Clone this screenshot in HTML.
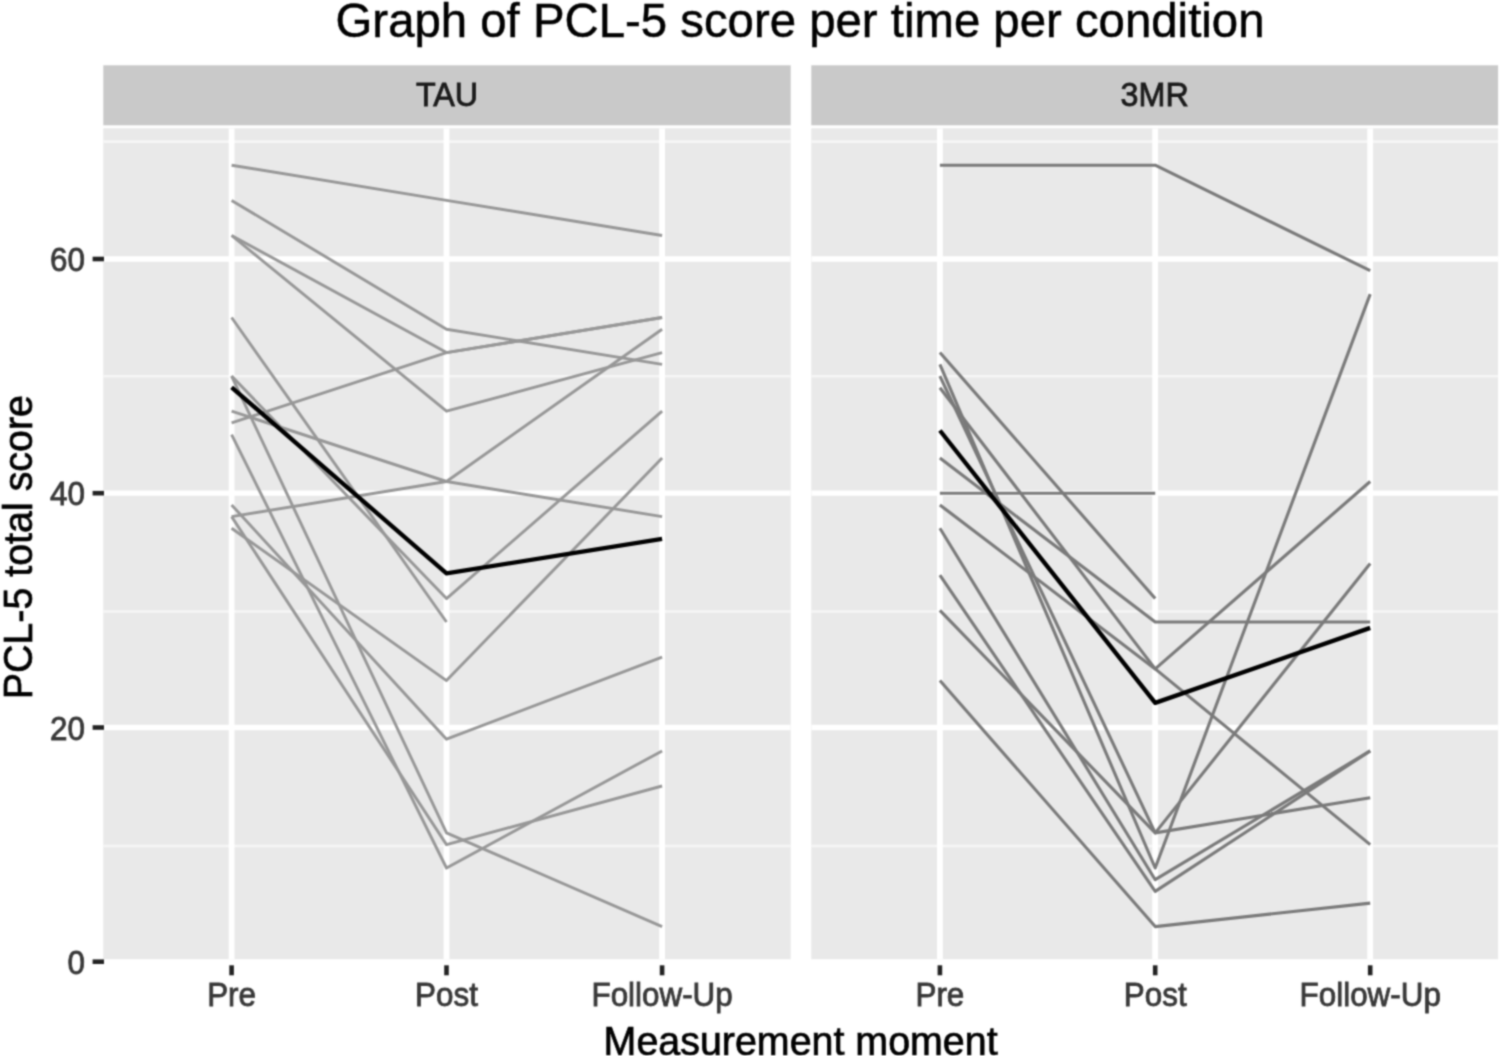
<!DOCTYPE html>
<html lang="en"><head><meta charset="utf-8"><title>Graph of PCL-5 score per time per condition</title>
<style>html,body{margin:0;padding:0;background:#fff;}body{width:1500px;height:1056px;overflow:hidden;}svg{display:block;}text{font-family:"Liberation Sans",sans-serif;}</style></head><body>
<svg width="1500" height="1056" viewBox="0 0 1500 1056">
<defs><filter id="soft" filterUnits="userSpaceOnUse" x="-20" y="-20" width="1540" height="1096" color-interpolation-filters="sRGB"><feConvolveMatrix order="5" kernelMatrix="0.00023 0.00332 0.00809 0.00332 0.00023 0.00332 0.04785 0.11640 0.04785 0.00332 0.00809 0.11640 0.28313 0.11640 0.00809 0.00332 0.04785 0.11640 0.04785 0.00332 0.00023 0.00332 0.00809 0.00332 0.00023" edgeMode="duplicate" preserveAlpha="true"/></filter></defs>
<g filter="url(#soft)">
<rect x="-20" y="-20" width="1540" height="1096" fill="#ffffff"/>
<!-- panel TAU -->
<rect x="103.3" y="65.3" width="687.4" height="60.0" fill="#c9c9c9"/>
<rect x="103.3" y="128.3" width="687.4" height="830.9" fill="#e9e9e9"/>
<clipPath id="c1"><rect x="103.3" y="128.3" width="687.4" height="830.9"/></clipPath>
<g clip-path="url(#c1)">
<line x1="103.3" x2="790.7" y1="141.6" y2="141.6" stroke="#f6f6f6" stroke-width="2.6"/>
<line x1="103.3" x2="790.7" y1="376.2" y2="376.2" stroke="#f6f6f6" stroke-width="2.6"/>
<line x1="103.3" x2="790.7" y1="611.5" y2="611.5" stroke="#f6f6f6" stroke-width="2.6"/>
<line x1="103.3" x2="790.7" y1="846.0" y2="846.0" stroke="#f6f6f6" stroke-width="2.6"/>
<line x1="103.3" x2="790.7" y1="727.5" y2="727.5" stroke="#fff" stroke-width="5.3"/>
<line x1="103.3" x2="790.7" y1="493.2" y2="493.2" stroke="#fff" stroke-width="5.3"/>
<line x1="103.3" x2="790.7" y1="259.0" y2="259.0" stroke="#fff" stroke-width="5.3"/>
<line x1="231.6" x2="231.6" y1="128.3" y2="959.2" stroke="#fff" stroke-width="5.8"/>
<line x1="446.5" x2="446.5" y1="128.3" y2="959.2" stroke="#fff" stroke-width="5.8"/>
<line x1="662.1" x2="662.1" y1="128.3" y2="959.2" stroke="#fff" stroke-width="5.8"/>
<polyline fill="none" stroke="#979797" stroke-width="2.9" stroke-linejoin="round" points="231.6,165.2 446.5,200.4 662.1,235.5"/>
<polyline fill="none" stroke="#979797" stroke-width="2.9" stroke-linejoin="round" points="231.6,200.4 446.5,329.2 662.1,364.4"/>
<polyline fill="none" stroke="#979797" stroke-width="2.9" stroke-linejoin="round" points="231.6,235.5 446.5,352.6 662.1,317.5"/>
<polyline fill="none" stroke="#979797" stroke-width="2.9" stroke-linejoin="round" points="231.6,235.5 446.5,411.2 662.1,352.6"/>
<polyline fill="none" stroke="#979797" stroke-width="2.9" stroke-linejoin="round" points="231.6,317.5 446.5,622.0"/>
<polyline fill="none" stroke="#979797" stroke-width="2.9" stroke-linejoin="round" points="231.6,376.1 446.5,598.6 662.1,411.2"/>
<polyline fill="none" stroke="#979797" stroke-width="2.9" stroke-linejoin="round" points="231.6,376.1 446.5,832.9 662.1,926.6"/>
<polyline fill="none" stroke="#979797" stroke-width="2.9" stroke-linejoin="round" points="231.6,411.2 446.5,481.5 662.1,516.6"/>
<polyline fill="none" stroke="#979797" stroke-width="2.9" stroke-linejoin="round" points="231.6,422.9 446.5,352.6 662.1,317.5"/>
<polyline fill="none" stroke="#979797" stroke-width="2.9" stroke-linejoin="round" points="231.6,434.6 446.5,868.0 662.1,750.9"/>
<polyline fill="none" stroke="#979797" stroke-width="2.9" stroke-linejoin="round" points="231.6,504.9 446.5,739.2 662.1,657.2"/>
<polyline fill="none" stroke="#979797" stroke-width="2.9" stroke-linejoin="round" points="231.6,516.6 446.5,481.5 662.1,329.2"/>
<polyline fill="none" stroke="#979797" stroke-width="2.9" stroke-linejoin="round" points="231.6,516.6 446.5,844.6 662.1,786.0"/>
<polyline fill="none" stroke="#979797" stroke-width="2.9" stroke-linejoin="round" points="231.6,528.3 446.5,680.6 662.1,458.1"/>
<polyline fill="none" stroke="#000" stroke-width="4.3" stroke-linejoin="round" points="231.6,387.3 446.5,573.3 662.1,538.9"/>
</g>
<text transform="translate(447.0,106.4) scale(1,1.040)" font-size="32.30" fill="#1a1a1a" stroke="#1a1a1a" stroke-width="0.80" text-anchor="middle">TAU</text>
<line x1="231.6" x2="231.6" y1="965.3" y2="975.3" stroke="#222222" stroke-width="4.6"/>
<text transform="translate(231.6,1006.2) scale(1,1.040)" font-size="31.40" fill="#383838" stroke="#383838" stroke-width="0.80" text-anchor="middle">Pre</text>
<line x1="446.5" x2="446.5" y1="965.3" y2="975.3" stroke="#222222" stroke-width="4.6"/>
<text transform="translate(446.5,1006.2) scale(1,1.040)" font-size="31.40" fill="#383838" stroke="#383838" stroke-width="0.80" text-anchor="middle">Post</text>
<line x1="662.1" x2="662.1" y1="965.3" y2="975.3" stroke="#222222" stroke-width="4.6"/>
<text transform="translate(662.1,1006.2) scale(1,1.040)" font-size="31.40" fill="#383838" stroke="#383838" stroke-width="0.80" text-anchor="middle">Follow-Up</text>
<!-- panel 3MR -->
<rect x="811.3" y="65.3" width="686.8" height="60.0" fill="#c9c9c9"/>
<rect x="811.3" y="128.3" width="686.8" height="830.9" fill="#e9e9e9"/>
<clipPath id="c2"><rect x="811.3" y="128.3" width="686.8" height="830.9"/></clipPath>
<g clip-path="url(#c2)">
<line x1="811.3" x2="1498.1" y1="141.6" y2="141.6" stroke="#f6f6f6" stroke-width="2.6"/>
<line x1="811.3" x2="1498.1" y1="376.2" y2="376.2" stroke="#f6f6f6" stroke-width="2.6"/>
<line x1="811.3" x2="1498.1" y1="611.5" y2="611.5" stroke="#f6f6f6" stroke-width="2.6"/>
<line x1="811.3" x2="1498.1" y1="846.0" y2="846.0" stroke="#f6f6f6" stroke-width="2.6"/>
<line x1="811.3" x2="1498.1" y1="727.5" y2="727.5" stroke="#fff" stroke-width="5.3"/>
<line x1="811.3" x2="1498.1" y1="493.2" y2="493.2" stroke="#fff" stroke-width="5.3"/>
<line x1="811.3" x2="1498.1" y1="259.0" y2="259.0" stroke="#fff" stroke-width="5.3"/>
<line x1="939.9" x2="939.9" y1="128.3" y2="959.2" stroke="#fff" stroke-width="5.8"/>
<line x1="1155.2" x2="1155.2" y1="128.3" y2="959.2" stroke="#fff" stroke-width="5.8"/>
<line x1="1370.2" x2="1370.2" y1="128.3" y2="959.2" stroke="#fff" stroke-width="5.8"/>
<polyline fill="none" stroke="#7a7a7a" stroke-width="3.1" stroke-linejoin="round" points="939.9,165.2 1155.2,165.2 1370.2,270.7"/>
<polyline fill="none" stroke="#7a7a7a" stroke-width="3.1" stroke-linejoin="round" points="939.9,352.6 1155.2,598.6"/>
<polyline fill="none" stroke="#7a7a7a" stroke-width="3.1" stroke-linejoin="round" points="939.9,364.4 1155.2,868.0 1370.2,294.1"/>
<polyline fill="none" stroke="#7a7a7a" stroke-width="3.1" stroke-linejoin="round" points="939.9,376.1 1155.2,832.9 1370.2,563.5"/>
<polyline fill="none" stroke="#7a7a7a" stroke-width="3.1" stroke-linejoin="round" points="939.9,387.8 1155.2,668.9 1370.2,481.5"/>
<polyline fill="none" stroke="#7a7a7a" stroke-width="3.1" stroke-linejoin="round" points="939.9,458.1 1155.2,622.0 1370.2,622.0"/>
<polyline fill="none" stroke="#7a7a7a" stroke-width="3.1" stroke-linejoin="round" points="939.9,493.2 1155.2,493.2"/>
<polyline fill="none" stroke="#7a7a7a" stroke-width="3.1" stroke-linejoin="round" points="939.9,504.9 1155.2,668.9 1370.2,844.6"/>
<polyline fill="none" stroke="#7a7a7a" stroke-width="3.1" stroke-linejoin="round" points="939.9,528.3 1155.2,879.7 1370.2,750.9"/>
<polyline fill="none" stroke="#7a7a7a" stroke-width="3.1" stroke-linejoin="round" points="939.9,575.2 1155.2,891.4 1370.2,750.9"/>
<polyline fill="none" stroke="#7a7a7a" stroke-width="3.1" stroke-linejoin="round" points="939.9,610.3 1155.2,832.9 1370.2,797.7"/>
<polyline fill="none" stroke="#7a7a7a" stroke-width="3.1" stroke-linejoin="round" points="939.9,680.6 1155.2,926.6 1370.2,903.1"/>
<polyline fill="none" stroke="#000" stroke-width="4.3" stroke-linejoin="round" points="939.9,430.5 1155.2,702.9 1370.2,627.9"/>
</g>
<text transform="translate(1154.7,106.4) scale(1,1.040)" font-size="32.30" fill="#1a1a1a" stroke="#1a1a1a" stroke-width="0.80" text-anchor="middle">3MR</text>
<line x1="939.9" x2="939.9" y1="965.3" y2="975.3" stroke="#222222" stroke-width="4.6"/>
<text transform="translate(939.9,1006.2) scale(1,1.040)" font-size="31.40" fill="#383838" stroke="#383838" stroke-width="0.80" text-anchor="middle">Pre</text>
<line x1="1155.2" x2="1155.2" y1="965.3" y2="975.3" stroke="#222222" stroke-width="4.6"/>
<text transform="translate(1155.2,1006.2) scale(1,1.040)" font-size="31.40" fill="#383838" stroke="#383838" stroke-width="0.80" text-anchor="middle">Post</text>
<line x1="1370.2" x2="1370.2" y1="965.3" y2="975.3" stroke="#222222" stroke-width="4.6"/>
<text transform="translate(1370.2,1006.2) scale(1,1.040)" font-size="31.40" fill="#383838" stroke="#383838" stroke-width="0.80" text-anchor="middle">Follow-Up</text>
<line x1="92.6" x2="104.0" y1="961.7" y2="961.7" stroke="#222222" stroke-width="4.6"/>
<text transform="translate(84.9,973.9) scale(1,1.040)" font-size="31.40" fill="#383838" stroke="#383838" stroke-width="0.80" text-anchor="end">0</text>
<line x1="92.6" x2="104.0" y1="727.5" y2="727.5" stroke="#222222" stroke-width="4.6"/>
<text transform="translate(84.9,739.7) scale(1,1.040)" font-size="31.40" fill="#383838" stroke="#383838" stroke-width="0.80" text-anchor="end">20</text>
<line x1="92.6" x2="104.0" y1="493.2" y2="493.2" stroke="#222222" stroke-width="4.6"/>
<text transform="translate(84.9,505.4) scale(1,1.040)" font-size="31.40" fill="#383838" stroke="#383838" stroke-width="0.80" text-anchor="end">40</text>
<line x1="92.6" x2="104.0" y1="259.0" y2="259.0" stroke="#222222" stroke-width="4.6"/>
<text transform="translate(84.9,271.2) scale(1,1.040)" font-size="31.40" fill="#383838" stroke="#383838" stroke-width="0.80" text-anchor="end">60</text>
<text transform="translate(800.0,36.5) scale(1,1.000)" font-size="47.35" fill="#000" stroke="#000" stroke-width="0.50" text-anchor="middle">Graph of PCL-5 score per time per condition</text>
<text transform="translate(800.6,1054.7) scale(1,1.015)" font-size="39.40" fill="#000" stroke="#000" stroke-width="0.70" text-anchor="middle">Measurement moment</text>
<text transform="translate(31.7,547.2) rotate(-90) scale(1,1.015)" font-size="39.40" fill="#000" stroke="#000" stroke-width="0.70" text-anchor="middle">PCL-5 total score</text>
</g>
</svg></body></html>
